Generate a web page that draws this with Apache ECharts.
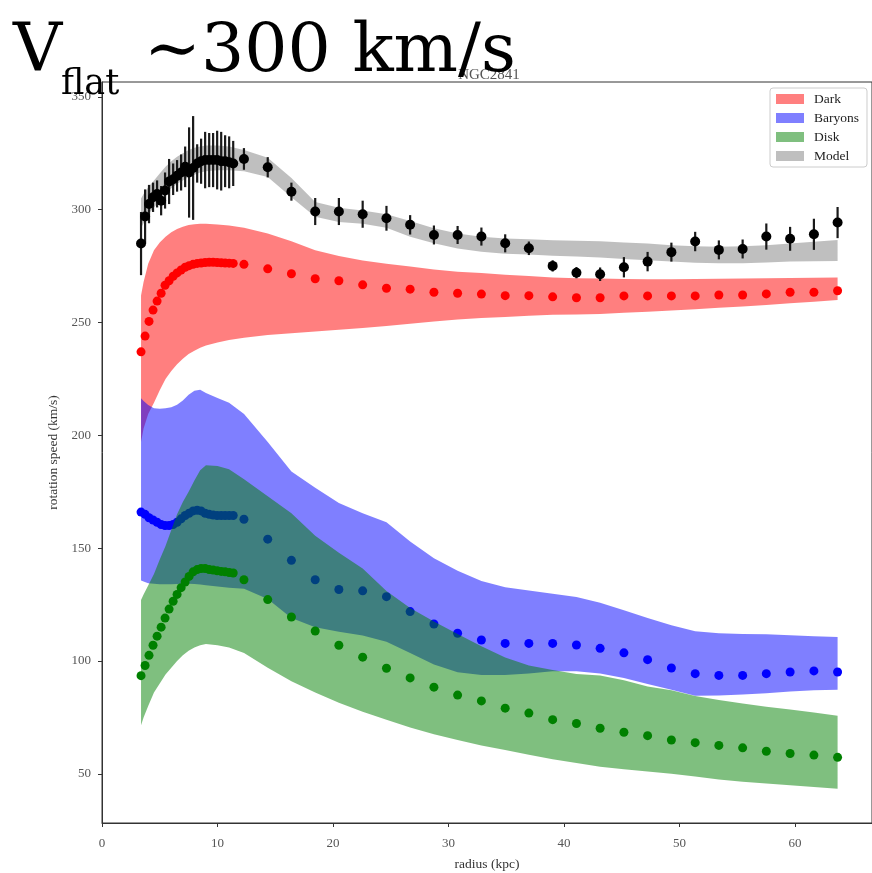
<!DOCTYPE html>
<html>
<head>
<meta charset="utf-8">
<script src="https://cdn.jsdelivr.net/npm/echarts@6/dist/echarts.min.js"></script>
<style>
  html, body { margin: 0; padding: 0; background: #fff; }
  #chart { width: 872px; height: 873px; }
</style>
</head>
<body>
<div id="chart"></div>
<script>
// NGC2841 rotation curve: observed speeds, component curves and model bands

// radii (kpc) of the sampled points
const radius = [3.38, 3.73, 4.07, 4.42, 4.77, 5.12, 5.46, 5.81, 6.16, 6.50, 6.85, 7.20,
  7.54, 7.89, 8.24, 8.58, 8.93, 9.28, 9.62, 9.97, 10.32, 10.66, 11.01, 11.36,
  12.29, 14.35, 16.40, 18.46, 20.51, 22.57, 24.63, 26.68, 28.74, 30.79, 32.85, 34.91,
  36.96, 39.02, 41.08, 43.13, 45.19, 47.24, 49.30, 51.36, 53.41, 55.47, 57.52, 59.58,
  61.64, 63.69];

// observed rotation speed (km/s) and its uncertainty
const vObs = [285, 297, 302.5, 305.5, 307, 304, 308.5, 312.5, 313.5, 315, 316.5, 319,
  316.5, 318.5, 320.5, 321.5, 322, 322, 322, 322, 321.5, 321.5, 321, 320.5,
  322.5, 318.8, 308, 299.2, 299.2, 298, 296.2, 293.3, 288.8, 288.8, 288.1, 285.1,
  282.9, 275.1, 272.1, 271.4, 274.5, 277, 281.2, 285.9, 282.2, 282.6, 288.1, 287.1,
  289.1, 294.3];
const vErr = [14, 12, 8.5, 6.5, 6, 6.5, 8, 10, 7, 7, 8, 9,
  20, 23, 8.5, 10, 12.5, 12, 12, 13, 13, 11.5, 11.5, 10,
  4.8, 4.5, 4, 6, 6, 6, 5.5, 4.3, 4.2, 4, 4, 4,
  3, 2.5, 2.5, 3, 4.5, 4.3, 4.2, 4.3, 4.2, 4.2, 5.8, 5.3,
  6.9, 6.9];

// component speeds (km/s)
const vDark = [237, 244, 250.5, 255.5, 259.5, 263, 266.5, 268.5, 270.5, 272, 273.3, 274.5,
  275.2, 275.8, 276.2, 276.4, 276.6, 276.7, 276.7, 276.6, 276.5, 276.4, 276.3, 276.2,
  275.8, 273.8, 271.6, 269.4, 268.5, 266.7, 265.2, 264.8, 263.4, 263, 262.6, 261.9,
  261.9, 261.4, 261, 261, 261.8, 261.8, 261.8, 261.8, 262.2, 262.2, 262.7, 263.4,
  263.4, 264.1];
const vBaryons = [166, 165, 163.5, 162.5, 161.5, 160.5, 160, 160, 160.5, 161.5, 163, 164.5,
  165.5, 166.5, 166.8, 166.5, 165.5, 165, 164.7, 164.5, 164.5, 164.5, 164.5, 164.5,
  162.8, 154, 144.6, 136, 131.7, 131.1, 128.5, 121.9, 116.4, 112.3, 109.3, 107.8,
  107.8, 107.8, 107.1, 105.6, 103.6, 100.6, 96.9, 94.4, 93.6, 93.6, 94.4, 95.1,
  95.6, 95.1];
const vDisk = [93.5, 98, 102.5, 107, 111, 115, 119, 123, 126.5, 129.5, 132.5, 135,
  137.5, 139.5, 140.5, 141, 141, 140.5, 140.3, 140, 139.7, 139.5, 139.2, 139,
  136, 127.2, 119.5, 113.3, 107, 101.7, 96.8, 92.5, 88.4, 84.9, 82.3, 79.1,
  76.9, 74, 72.3, 70.2, 68.4, 66.9, 65, 63.8, 62.6, 61.5, 60, 59,
  58.3, 57.3];

// radii (kpc) where the uncertainty bands are sampled
const bandR = [3.38, 3.6, 4.0, 4.5, 5.0, 5.5, 6.0, 6.5, 7.0, 7.5, 8.0, 8.5, 9.0, 10.0, 11.0,
  12.3, 14.35, 16.4, 18.46, 20.51, 22.57, 24.63, 26.68, 28.74, 30.79, 32.85, 34.91,
  36.96, 39.02, 41.08, 43.13, 45.19, 47.24, 49.3, 51.36, 53.41, 55.47, 57.52, 59.58,
  61.64, 63.69];

const darkHi = [262, 268, 276, 282, 285.5, 288, 290, 291.5, 292.5, 293.2, 293.6, 293.8, 293.8,
  293.5, 293, 292, 289.5, 286, 282, 279.5, 277.5, 276, 274.8, 273.5, 272.5, 271.9, 271.2,
  270.6, 270, 269.6, 269.5, 269.3, 269.2, 269.2, 269.3, 269.4, 269.5, 269.6, 269.7, 269.9, 270];
const darkLo = [197, 203, 209.5, 214.5, 220, 225, 228.5, 231.5, 234, 236, 237.5, 238.8, 239.8,
  241.2, 242.3, 243.3, 244.5, 245.3, 246, 246.8, 247.6, 248.5, 249.5, 250.5, 251.3, 252, 252.5,
  253, 253.4, 253.6, 253.8, 254.3, 254.8, 255.3, 255.9, 256.5, 257.1, 257.8, 258.5, 259.2, 260];

const baryHi = [216.4, 215.2, 213.5, 212, 211.8, 212, 212.5, 213.6, 215.5, 218, 219.8, 220.2, 218.8,
  216.5, 214.5, 209.5, 197, 184, 176.8, 170, 165.5, 161.5, 153, 145.5, 140, 135.5, 132.7,
  131.2, 129.8, 128.4, 125.8, 122.5, 119, 115.8, 113.2, 112.3, 112, 111.8, 111.4, 111, 110.6];
const baryLo = [135.7, 135.2, 134.5, 134.2, 134, 134, 134, 134.1, 134.2, 134.2, 134.1, 133.9, 133.6,
  133, 132.5, 132, 127.5, 119, 115, 113, 111.3, 108.5, 103.5, 98.5, 95, 93.8, 93.8,
  94.5, 95.5, 95.5, 94.5, 92.5, 89.8, 87.2, 84.6, 84.7, 85.2, 85.7, 86.5, 87, 87.2];

const diskHi = [127, 129.5, 133.5, 138.5, 145, 151, 158, 165, 170.5, 175, 180, 184.5, 186.8,
  186.4, 185, 180.5, 173, 165.5, 155.5, 148, 141, 131, 123.5, 117.5, 112, 106.5, 101.5,
  98, 96, 94.2, 93.6, 91.5, 88.7, 87, 84.5, 82.7, 81.2, 79.7, 78.5, 77.2, 75.7];
const diskLo = [71.5, 75, 80, 86, 90, 94, 97, 100, 102.5, 104.5, 106, 107, 107.5,
  107, 106, 103.5, 97, 91, 86, 81.5, 77.5, 74, 70.5, 67.5, 65, 62.5, 60.5,
  58.5, 56.5, 54.8, 53.1, 52, 51, 50, 48.8, 47.5, 46.5, 45.7, 44.9, 44.2, 43.4];

const modelHi = [305, 307, 310, 313, 316, 319, 321.5, 323.5, 325, 326.5, 327.5, 328, 328.5,
  328.5, 328, 326.5, 323, 314, 303.4, 300.9, 299.7, 298, 295, 291.8, 289.5, 288, 287.2,
  286.9, 286.5, 286.2, 286, 285.5, 285, 284.3, 283.8, 283.6, 283.8, 284.3, 285, 285.8, 286.6];
const modelLo = [292, 294, 298, 301, 304, 307, 309.5, 311.5, 313, 314.5, 315.5, 316.5, 317,
  317.5, 317.5, 317, 314.5, 305.5, 296.9, 294.5, 293.8, 292, 288, 285.1, 282.8, 281.4, 280.5,
  280.1, 279.6, 279.3, 278.8, 278.2, 277.6, 277, 276.5, 276.3, 276.3, 276.6, 277, 277.2, 277.3];

const xTicks = [0, 10, 20, 30, 40, 50, 60];
const yTicks = [50, 100, 150, 200, 250, 300, 350];

const SERIF = '"Liberation Serif", "DejaVu Serif", serif';
const BIG = '"DejaVu Serif", serif';

// filled band between an upper and lower curve, projected through the grid
function band(name, color, hi, lo, z) {
  return {
    type: 'custom',
    name: name,
    z: z,
    silent: true,
    itemStyle: { color: color },
    data: [[bandR[0], hi[0]]],
    renderItem: function (params, api) {
      const pts = [];
      for (let i = 0; i < bandR.length; i++) pts.push(api.coord([bandR[i], hi[i]]));
      for (let i = bandR.length - 1; i >= 0; i--) pts.push(api.coord([bandR[i], lo[i]]));
      return { type: 'polygon', shape: { points: pts }, style: { fill: color } };
    }
  };
}

function dots(name, values, color, size, z) {
  return {
    type: 'scatter',
    name: name + ' pts',
    z: z,
    silent: true,
    symbol: 'circle',
    symbolSize: size,
    itemStyle: { color: color, opacity: 1 },
    data: radius.map((r, i) => [r, values[i]])
  };
}

const option = {
  animation: false,
  backgroundColor: '#fff',
  grid: {
    left: 102, top: 82, right: 0, bottom: 50,
    outerBoundsMode: 'none',
    containLabel: false,
    show: true, borderColor: '#333', borderWidth: 1, backgroundColor: 'transparent'
  },
  legend: {
    orient: 'vertical',
    left: 770, top: 88,
    data: ['Dark', 'Baryons', 'Disk', 'Model'],
    icon: 'rect',
    itemWidth: 28, itemHeight: 10, itemGap: 5,
    padding: [4, 8, 4, 6],
    backgroundColor: '#fff',
    borderColor: '#ccc', borderWidth: 1, borderRadius: 3,
    selectedMode: false,
    textStyle: { fontFamily: SERIF, fontSize: 13.5, color: '#222', padding: [0, 0, 0, 5] }
  },
  xAxis: {
    type: 'value', min: 0, max: 66.67,
    name: 'radius (kpc)', nameLocation: 'middle', nameGap: 34,
    nameTextStyle: { fontFamily: SERIF, fontSize: 13.5, color: '#333' },
    axisLine: { show: true, lineStyle: { color: '#333', width: 1 } },
    axisTick: { show: true, length: 4, customValues: xTicks, lineStyle: { color: '#333' } },
    axisLabel: { customValues: xTicks, margin: 14, fontFamily: SERIF, fontSize: 13, color: '#555' },
    splitLine: { show: false }
  },
  yAxis: {
    type: 'value', min: 28.2, max: 356.6,
    name: 'rotation speed (km/s)', nameLocation: 'middle', nameGap: 31,
    nameTextStyle: { fontFamily: SERIF, fontSize: 13.5, color: '#333' },
    axisLine: { show: true, lineStyle: { color: '#333', width: 1 } },
    axisTick: { show: true, length: 4, customValues: yTicks, lineStyle: { color: '#333' } },
    axisLabel: { customValues: yTicks, margin: 11, fontFamily: SERIF, fontSize: 13, color: '#555' },
    splitLine: { show: false }
  },
  graphic: [
    { type: 'text', x: 489, y: 75, z: 10,
      style: { text: 'NGC2841', font: '15px ' + SERIF, fill: '#555', align: 'center', verticalAlign: 'middle' } },
    { type: 'text', x: 13, y: 53, z: 20,
      style: { text: 'V', font: '68px ' + BIG, fill: '#000', verticalAlign: 'middle' } },
    { type: 'text', x: 61, y: 85, z: 20,
      style: { text: 'flat', font: '35px ' + BIG, fill: '#000', verticalAlign: 'middle' } },
    { type: 'text', x: 144, y: 53, z: 20,
      style: { text: '\u223C300 km/s', font: '68px ' + BIG, fill: '#000', verticalAlign: 'middle' } }
  ],
  series: [
    band('Dark', 'rgba(255,0,0,0.5)', darkHi, darkLo, 1),
    dots('Dark', vDark, '#ff0000', 9, 2),
    band('Baryons', 'rgba(0,0,255,0.5)', baryHi, baryLo, 3),
    dots('Baryons', vBaryons, '#0000ff', 9, 4),
    band('Disk', 'rgba(0,128,0,0.5)', diskHi, diskLo, 5),
    dots('Disk', vDisk, '#008000', 9, 6),
    band('Model', 'rgba(128,128,128,0.5)', modelHi, modelLo, 7),
    {
      type: 'custom',
      name: 'errors',
      z: 8,
      silent: true,
      data: radius.map((r, i) => [r, vObs[i], vErr[i]]),
      renderItem: function (params, api) {
        const r = api.value(0), v = api.value(1), e = api.value(2);
        const p1 = api.coord([r, v - e]);
        const p2 = api.coord([r, v + e]);
        return { type: 'line', shape: { x1: p1[0], y1: p1[1], x2: p2[0], y2: p2[1] },
          style: { stroke: '#1a1a1a', lineWidth: 2.2 } };
      }
    },
    dots('Observed', vObs, '#000000', 10, 9)
  ]
};

const chart = echarts.init(document.getElementById('chart'), null, { renderer: 'canvas' });
chart.setOption(option);
</script>
</body>
</html>
